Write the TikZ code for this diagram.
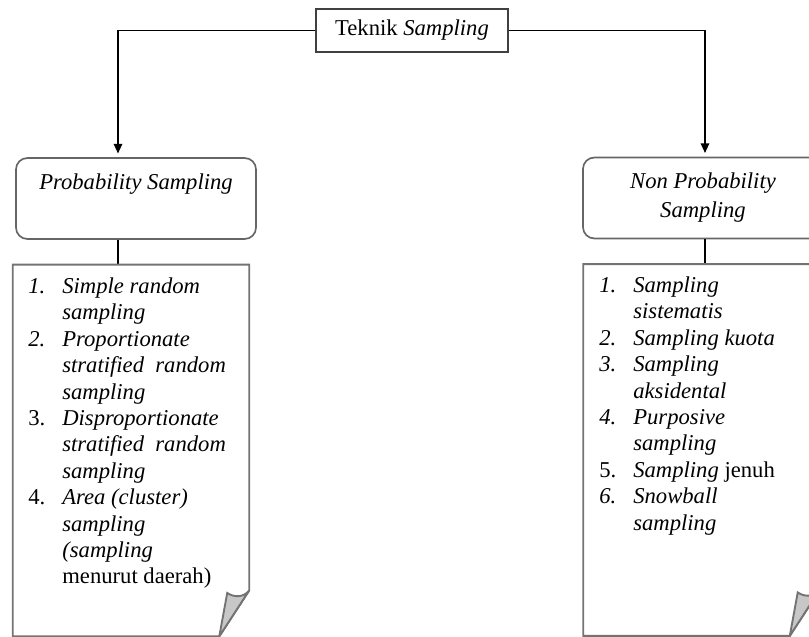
\documentclass[tikz,border=0pt]{standalone}
\usepackage{fontspec}
\setmainfont{Liberation Serif}
\usetikzlibrary{arrows.meta}

\begin{document}
\begin{tikzpicture}[
          x=0.53pt, y=-0.53pt,
          topbox/.style={
            rectangle,
            draw=black!75,
            line width=0.8pt,
            minimum width=101.8pt,
            minimum height=22.8pt,
            font=\fontsize{12}{14}\selectfont,
          },
          groupbox/.style={
            rectangle,
            rounded corners=6pt,
            draw=black!60,
            line width=0.9pt,
            minimum width=127.2pt,
            minimum height=42.9pt,
            align=center,
            font=\fontsize{12}{15.4}\selectfont\itshape,
          },
          docbox/.style={
            rectangle,
            minimum width=125pt,
            minimum height=196.6pt,
            inner sep=0pt,
          },
          docline/.style={
            draw=black!55,
            line width=1pt,
            line join=miter,
          },
          flap/.style={
            docline,
            fill=black!22,
          },
          listtext/.style={
            anchor=north west,
            inner sep=0pt,
            align=left,
            font=\fontsize{12}{14}\selectfont,
          },
          branch/.style={
            draw=black,
            line width=0.6pt,
          },
        ]
          \useasboundingbox (0,0) rectangle (809,637);

          % top
          \node[topbox](tek) at (412,30.5){Teknik \textit{Sampling}};
          \coordinate (lsplit) at (118,30.5);
          \coordinate (rsplit) at (705,30.5);

          % the two groups
          \node[groupbox](prob) at (136,198.5){Probability Sampling\\\phantom{Sampling}};
          \node[groupbox](nonprob) at (703,198){Non Probability\\Sampling};

          \node[docbox](probdoc) at (131,450.5){};
          \node[docbox](nonprobdoc) at (701.5,450){};

          \draw[branch, -{Triangle[length=5pt,width=4.5pt]}, shorten >=2pt]
              (tek.west) -- (lsplit) -- (lsplit |- prob.north);
          \draw[branch, -{Triangle[length=5pt,width=4.5pt]}, shorten >=2pt]
              (tek.east) -- (rsplit) -- (rsplit |- nonprob.north);
          \draw[branch] (lsplit |- prob.south) -- (lsplit |- probdoc.north);
          \draw[branch] (rsplit |- nonprob.south) -- (rsplit |- nonprobdoc.north);

          % documents with a folded corner
          \draw[docline]
              (probdoc.north west) -- (probdoc.north east)
              -- ([yshift=24.4pt]probdoc.south east)
              -- ([xshift=-15.9pt]probdoc.south east)
              -- (probdoc.south west) -- cycle;
          \draw[flap]
              ([yshift=24.4pt]probdoc.south east)
              .. controls ([xshift=-3pt,yshift=20.5pt]probdoc.south east)
              and ([xshift=-8pt,yshift=20.5pt]probdoc.south east)
              .. ([xshift=-11.7pt,yshift=23pt]probdoc.south east)
              -- ([xshift=-15.9pt]probdoc.south east) -- cycle;

          \draw[docline]
              (nonprobdoc.north west) -- (nonprobdoc.north east)
              -- ([yshift=24.4pt]nonprobdoc.south east)
              -- ([xshift=-15.9pt]nonprobdoc.south east)
              -- (nonprobdoc.south west) -- cycle;
          \draw[flap]
              ([yshift=24.4pt]nonprobdoc.south east)
              .. controls ([xshift=-3pt,yshift=20.5pt]nonprobdoc.south east)
              and ([xshift=-8pt,yshift=20.5pt]nonprobdoc.south east)
              .. ([xshift=-11.7pt,yshift=23pt]nonprobdoc.south east)
              -- ([xshift=-15.9pt]nonprobdoc.south east) -- cycle;

          % lists
          \node[listtext](problist) at (28,276){%
            \rule{0pt}{9pt}\makebox[18pt][l]{\textit{1.}}\textit{Simple random}\\
            \hspace*{18pt}\textit{sampling}\\
            \makebox[18pt][l]{\textit{2.}}\textit{Proportionate}\\
            \hspace*{18pt}\textit{stratified\ \ random}\\
            \hspace*{18pt}\textit{sampling}\\
            \makebox[18pt][l]{3.}\textit{Disproportionate}\\
            \hspace*{18pt}\textit{stratified\ \ random}\\
            \hspace*{18pt}\textit{sampling}\\
            \makebox[18pt][l]{4.}\textit{Area (cluster)}\\
            \hspace*{18pt}\textit{sampling}\\
            \hspace*{18pt}\textit{(sampling}\\
            \hspace*{18pt}menurut daerah)};

          \node[listtext](nonproblist) at (599,275){%
            \rule{0pt}{9pt}\makebox[18pt][l]{\textit{1.}}\textit{Sampling}\\
            \hspace*{18pt}\textit{sistematis}\\
            \makebox[18pt][l]{\textit{2.}}\textit{Sampling kuota}\\
            \makebox[18pt][l]{\textit{3.}}\textit{Sampling}\\
            \hspace*{18pt}\textit{aksidental}\\
            \makebox[18pt][l]{\textit{4.}}\textit{Purposive}\\
            \hspace*{18pt}\textit{sampling}\\
            \makebox[18pt][l]{5.}\textit{Sampling} jenuh\\
            \makebox[18pt][l]{\textit{6.}}\textit{Snowball}\\
            \hspace*{18pt}\textit{sampling}};
        \end{tikzpicture}
\end{document}
